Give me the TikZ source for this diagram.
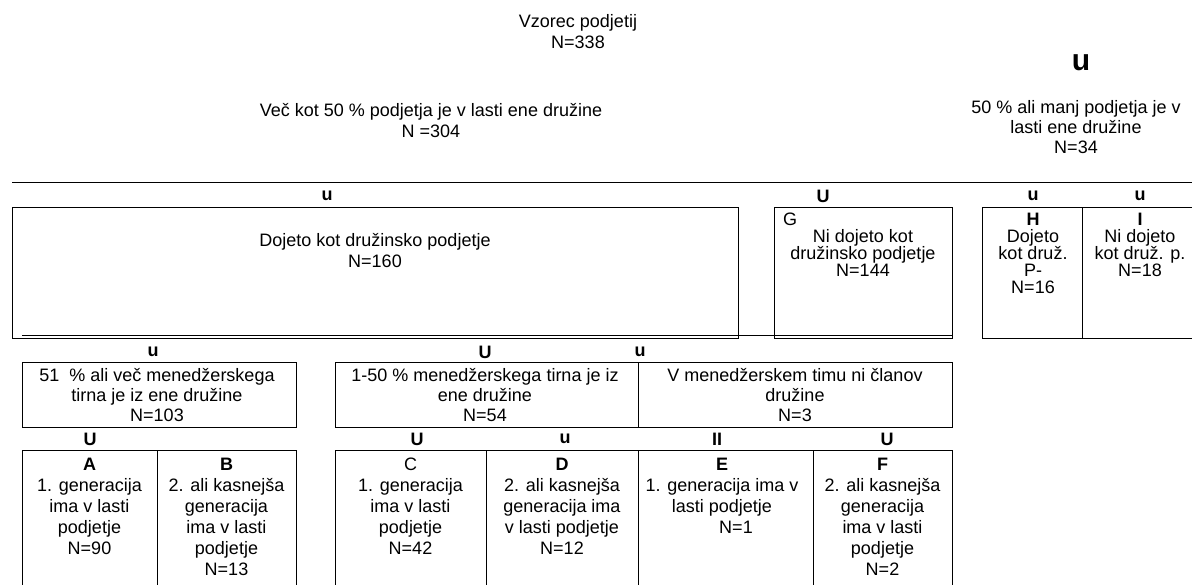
\documentclass[tikz,border=0pt]{standalone}
\usepackage{fontspec}
\setmainfont{Liberation Sans}
\usepackage{tikz}
\usetikzlibrary{positioning}

\begin{document}
\begin{tikzpicture}[
                x=1pt, y=-1pt,
                txt/.style={align=center, inner sep=0pt, font=\fontsize{18}{21}\selectfont},
                txtS/.style={align=center, inner sep=0pt, font=\fontsize{18}{17}\selectfont},
                tag/.style={inner sep=0pt, font=\fontsize{18}{21}\selectfont\bfseries},
                cell/.style={draw, line width=1pt, inner sep=0pt, anchor=north west}
                ]

                \useasboundingbox (0,0) rectangle (1192,584);
                \clip (0,0) rectangle (1192,584);

                % vrh
                \node[txt] (vzorec) at (578,31.5) {Vzorec podjetij\\N=338};
                \node[inner sep=0pt, font=\fontsize{30}{30}\selectfont\bfseries] (bigU) at (1081,63) {u};
                \node[txt] (vec) at (431,120.5) {Več kot 50 \% podjetja je v lasti ene družine\\N =304};
                \node[txt, font=\fontsize{18}{20}\selectfont] (manj) at (1076,127) {50 \% ali manj podjetja je v\\lasti ene družine\\N=34};

                \coordinate (lineL) at (12,182);
                \coordinate (lineR) at (1192,182);
                \draw[line width=1pt] (lineL) -- (lineR);

                % prva vrsta
                \node[tag] (t1) at (327,196) {u};
                \node[tag] (t2) at (823,196) {U};
                \node[tag] (t3) at (1033,196) {u};
                \node[tag] (t4) at (1140,196) {u};

                \node[cell, minimum width=726pt, minimum height=131pt] (dojeto) at (12,207) {};
                \node[cell, minimum width=178pt, minimum height=131pt] (gBox) at (774,207) {};
                \node[cell, minimum width=100pt, minimum height=131pt] (hBox) at (982,207) {};
                \node[cell, minimum width=116pt, minimum height=131pt] (iBox) at (1082,207) {};

                \coordinate (dblL) at (22,335);
                \coordinate (dblR) at (952,335);
                \draw[line width=1pt] (dblL) -- (dblR);

                \node[txt] (dojetoT) at (375,250.5) {Dojeto kot družinsko podjetje\\N=160};
                \node[txt] (gT) at (790,219) {G};
                \node[txtS] (gText) at (863,252.5) {Ni dojeto kot\\družinsko podjetje\\N=144};
                \node[txtS] (hText) at (1033,253) {\textbf{H}\\Dojeto\\kot druž.\\P-\\N=16};
                \node[txtS] (iText) at (1140,244.5) {\textbf{I}\\Ni dojeto\\kot druž. p.\\N=18};

                % druga vrsta
                \node[tag] (t5) at (153,352) {u};
                \node[tag] (t6) at (485,352) {U};
                \node[tag] (t7) at (640,352) {u};

                \node[cell, minimum width=274pt, minimum height=65pt] (m1) at (22,362) {};
                \node[cell, minimum width=303pt, minimum height=65pt] (m2) at (335,362) {};
                \node[cell, minimum width=314pt, minimum height=65pt] (m3) at (638,362) {};

                \node[txt, font=\fontsize{18}{20}\selectfont] (m1T) at (157,395) {51\ \ \% ali več menedžerskega\\tirna je iz ene družine\\N=103};
                \node[txt, font=\fontsize{18}{20}\selectfont] (m2T) at (485,395) {1-50 \% menedžerskega tirna je iz\\ene družine\\N=54};
                \node[txt, font=\fontsize{18}{20}\selectfont] (m3T) at (795,395) {V menedžerskem timu ni članov\\družine\\N=3};

                % tretja vrsta
                \node[tag] (t8) at (90,439) {U};
                \node[tag] (t9) at (417,439) {U};
                \node[tag] (t10) at (565,439) {u};
                \node[tag] (t11) at (717,439) {II};
                \node[tag] (t12) at (887,439) {U};

                \node[cell, minimum width=135pt, minimum height=150pt] (aBox) at (22,450) {};
                \node[cell, minimum width=139pt, minimum height=150pt] (bBox) at (157,450) {};
                \node[cell, minimum width=151pt, minimum height=150pt] (cBox) at (335,450) {};
                \node[cell, minimum width=152pt, minimum height=150pt] (dBox) at (486,450) {};
                \node[cell, minimum width=175pt, minimum height=150pt] (eBox) at (638,450) {};
                \node[cell, minimum width=139pt, minimum height=150pt] (fBox) at (813,450) {};

                \node[txt, anchor=north] (aT) at (89.5,458) {\textbf{A}\\1. generacija\\ima v lasti\\podjetje\\N=90};
                \node[txt, anchor=north] (bT) at (226.5,458) {\textbf{B}\\2. ali kasnejša\\generacija\\ima v lasti\\podjetje\\N=13};
                \node[txt, anchor=north] (cT) at (410.5,458) {C\\1. generacija\\ima v lasti\\podjetje\\N=42};
                \node[txt, anchor=north] (dT) at (562,458) {\textbf{D}\\2. ali kasnejša\\generacija ima\\v lasti podjetje\\N=12};
                \node[txt, anchor=north] (eT) at (722,458) {\textbf{E}\\1. generacija ima v\\lasti podjetje\hspace*{50pt}\\\hspace*{28pt}N=1};
                \node[txt, anchor=north] (fT) at (882.5,458) {\textbf{F}\\2. ali kasnejša\\generacija\\ima v lasti\\podjetje\\N=2};
            \end{tikzpicture}
\end{document}
